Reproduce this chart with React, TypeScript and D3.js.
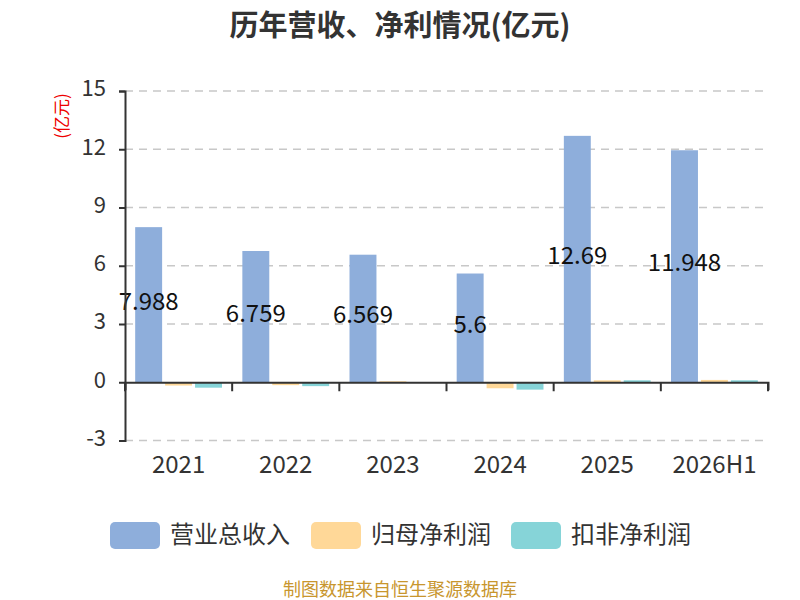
import * as React from 'react';
import * as d3 from 'd3';

const years = ['2021', '2022', '2023', '2024', '2025', '2026H1'];
const seriesNames = ['营业总收入', '归母净利润', '扣非净利润'];
const revenue = [7.988, 6.759, 6.569, 5.6, 12.69, 11.948];
const netProfit = [-0.17, -0.15, 0.05, -0.31, 0.1, 0.12];
const deductedProfit = [-0.28, -0.2, 0, -0.38, 0.1, 0.1];
const yTicks = [-3, 0, 3, 6, 9, 12, 15];
const colors = ['#8eaedb', '#ffd898', '#86d4d8'];

const W = 800;
const H = 600;
const FONT = '"Noto Sans CJK SC", "Noto Sans", sans-serif';

const App: React.FC = () => {
  const svgRef = React.useRef<SVGSVGElement>(null);

  React.useEffect(() => {
    const svg = d3.select(svgRef.current);
    svg.selectAll('*').remove();

    const left = 125, right = 768, top = 91, bottom = 440.5;

    const x = d3.scaleBand().domain(years).range([left, right]).padding(0);
    const inner = d3.scaleBand()
      .domain(seriesNames)
      .range([x.bandwidth() * 0.095, x.bandwidth() * 0.905])
      .paddingInner(0.1);
    const y = d3.scaleLinear().domain([-3, 15]).range([bottom, top]);

    // title
    svg.append('text')
      .attr('x', W / 2).attr('y', 36)
      .attr('text-anchor', 'middle')
      .attr('font-family', FONT)
      .attr('font-size', 29).attr('font-weight', 'bold')
      .attr('fill', '#333')
      .text('历年营收、净利情况(亿元)');

    // grid
    svg.append('g').selectAll('line')
      .data(yTicks.filter(t => t !== 0))
      .enter().append('line')
      .attr('x1', left).attr('x2', right)
      .attr('y1', d => y(d)).attr('y2', d => y(d))
      .attr('stroke', '#c8c8c8')
      .attr('stroke-width', 1.5)
      .attr('stroke-dasharray', '8,6');

    // bars
    const series = [revenue, netProfit, deductedProfit];
    series.forEach((vals, si) => {
      svg.append('g').selectAll('rect')
        .data(vals)
        .enter().append('rect')
        .attr('x', (d, i) => (x(years[i]) as number) + (inner(seriesNames[si]) as number))
        .attr('width', inner.bandwidth())
        .attr('y', d => y(Math.max(0, d)))
        .attr('height', d => Math.abs(y(d) - y(0)))
        .attr('fill', colors[si]);
    });

    // revenue labels
    svg.append('g').selectAll('text')
      .data(revenue)
      .enter().append('text')
      .attr('x', (d, i) => (x(years[i]) as number) + (inner(seriesNames[0]) as number) + inner.bandwidth() / 2)
      .attr('y', d => (y(d) + y(0)) / 2 + 5)
      .attr('text-anchor', 'middle')
      .attr('font-family', FONT)
      .attr('font-size', 24)
      .attr('fill', '#111')
      .text(d => String(d));

    // y axis
    const yAxis = svg.append('g')
      .attr('transform', `translate(${left},0)`)
      .call(d3.axisLeft(y).tickValues(yTicks).tickSize(6).tickPadding(13).tickFormat(d => String(d)));
    yAxis.select('.domain').attr('stroke', '#333').attr('stroke-width', 2);
    yAxis.selectAll('.tick line').attr('stroke', '#333').attr('stroke-width', 2);
    yAxis.selectAll('.tick text')
      .attr('dy', '0.22em')
      .attr('font-family', FONT).attr('font-size', 22).attr('fill', '#333');

    // x axis at zero
    const xAxis = svg.append('g')
      .attr('transform', `translate(0,${y(0)})`)
      .call(d3.axisBottom(x).tickSize(8).tickSizeOuter(8).tickFormat(() => ''));
    xAxis.selectAll('.tick').remove();
    xAxis.select('.domain').attr('stroke', '#333').attr('stroke-width', 2);
    xAxis.selectAll('.bt')
      .data(d3.range(years.length + 1))
      .enter().append('line')
      .attr('x1', i => left + i * x.step()).attr('x2', i => left + i * x.step())
      .attr('y1', 0).attr('y2', 9)
      .attr('stroke', '#333').attr('stroke-width', 2);

    svg.append('g').selectAll('text')
      .data(years)
      .enter().append('text')
      .attr('x', d => (x(d) as number) + x.bandwidth() / 2)
      .attr('y', 473)
      .attr('text-anchor', 'middle')
      .attr('font-family', FONT)
      .attr('font-size', 24)
      .attr('fill', '#333')
      .text(d => d);

    // unit label
    svg.append('text')
      .attr('transform', 'translate(68,116) rotate(-90)')
      .attr('text-anchor', 'middle')
      .attr('font-family', FONT)
      .attr('font-size', 17)
      .attr('fill', '#e00')
      .text('(亿元)');

    // legend
    const legendX = [110, 311, 511];
    const lg = svg.append('g');
    seriesNames.forEach((name, i) => {
      lg.append('rect')
        .attr('x', legendX[i]).attr('y', 522)
        .attr('width', 50).attr('height', 27)
        .attr('rx', 5)
        .attr('fill', colors[i]);
      lg.append('text')
        .attr('x', legendX[i] + 60).attr('y', 535)
        .attr('dy', '0.35em')
        .attr('font-family', FONT)
        .attr('font-size', 24)
        .attr('fill', '#333')
        .text(name);
    });

    // source
    svg.append('text')
      .attr('x', W / 2).attr('y', 596)
      .attr('text-anchor', 'middle')
      .attr('font-family', FONT)
      .attr('font-size', 18)
      .attr('fill', '#c8962e')
      .text('制图数据来自恒生聚源数据库');
  }, []);

  return (
    <svg ref={svgRef} width={W} height={H}
      style={{ position: 'absolute', left: 0, top: 0, background: '#fff' }} />
  );
};

export default App;
